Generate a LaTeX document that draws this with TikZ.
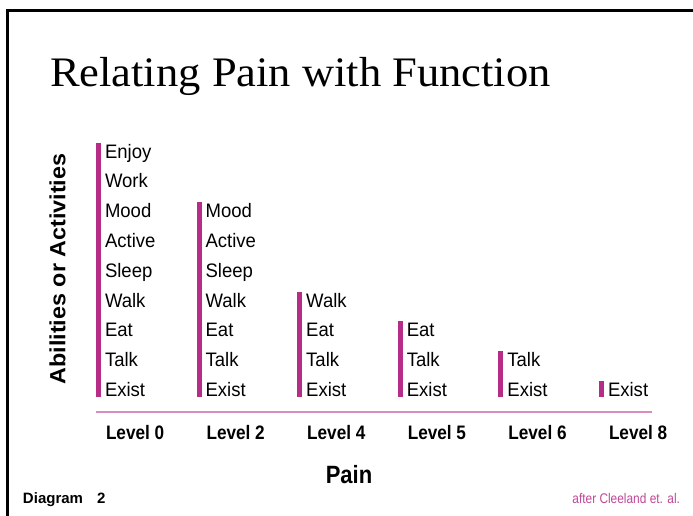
\documentclass[tikz,border=0pt]{standalone}
\usepackage{fontspec}
\setmainfont{Liberation Sans}
\newfontfamily\titlefont[FakeStretch=1.06]{Liberation Serif}
\newfontfamily\itemfont[FakeStretch=0.95]{Liberation Sans}
\newfontfamily\levfont[FakeStretch=0.88]{Liberation Sans Bold}
\newfontfamily\ylabfont[FakeStretch=1.06]{Liberation Sans Bold}
\newfontfamily\diagfont{Liberation Sans Bold}
\newfontfamily\credfont[FakeStretch=0.85]{Liberation Sans}
\definecolor{barmag}{RGB}{181,45,135}
\definecolor{axispink}{RGB}{218,140,190}
\definecolor{creditmag}{RGB}{192,70,150}
\begin{document}
\begin{tikzpicture}[x=1pt,y=-1pt,
  txt/.style={inner sep=0pt,outer sep=0pt},
  item/.style={txt,anchor=base west,font=\itemfont\fontsize{19.5}{20}\selectfont},
  levlab/.style={txt,anchor=base west,font=\levfont\fontsize{19.5}{20}\selectfont},
  bar/.style={fill=barmag,draw=none},
  frame/.style={line width=3pt,black}]
\useasboundingbox (0,0) rectangle (693,515);
% frame
\coordinate (fb) at (7.5,516);
\coordinate (fc) at (7.5,10.5);
\coordinate (fr) at (694,10.5);
\draw[frame] (fb) -- (fc) -- (fr);
% title
\node[txt,anchor=base west,font=\titlefont\fontsize{42}{42}\selectfont] (title) at (50,86) {Relating Pain with Function};
% y label
\node[txt,rotate=90,font=\ylabfont\fontsize{22}{22}\selectfont] (ylab) at (57.5,269) {Abilities or Activities};
% columns
\foreach \c/\lev/\k in {0/0/9,1/2/7,2/4/4,3/5/3,4/6/2,5/8/1}{
  \pgfmathsetmacro{\xl}{96+100.6*\c}
  \pgfmathtruncatemacro{\st}{9-\k}
  \pgfmathsetmacro{\yt}{158+29.8*\st-15.5}
  \fill[bar] (\xl,\yt) rectangle (\xl+5,397);
  \foreach \r/\nm in {0/Enjoy,1/Work,2/Mood,3/Active,4/Sleep,5/Walk,6/Eat,7/Talk,8/Exist}{
    \ifnum\r<\st\else
      \node[item] (i\c-\r) at (\xl+9,158+29.8*\r) {\nm};
    \fi
  }
  \node[levlab] (lev\c) at (\xl+10,439) {Level \lev};
}
% axis line
\coordinate (axL) at (96,411.5);
\coordinate (axR) at (652,411.5);
\draw[axispink,line width=2pt] (axL) -- (axR);
% pain
\node[txt,anchor=base,font=\levfont\fontsize{25}{25}\selectfont] (pain) at (349,483) {Pain};
% footer
\node[txt,anchor=base west,font=\diagfont\fontsize{15}{15}\selectfont] (diag) at (23,503) {Diagram\hspace{14pt}2};
\node[txt,anchor=base east,text=creditmag,font=\credfont\fontsize{14}{14}\selectfont] (cred) at (680,503) {after Cleeland et. al.};
\end{tikzpicture}
\end{document}
